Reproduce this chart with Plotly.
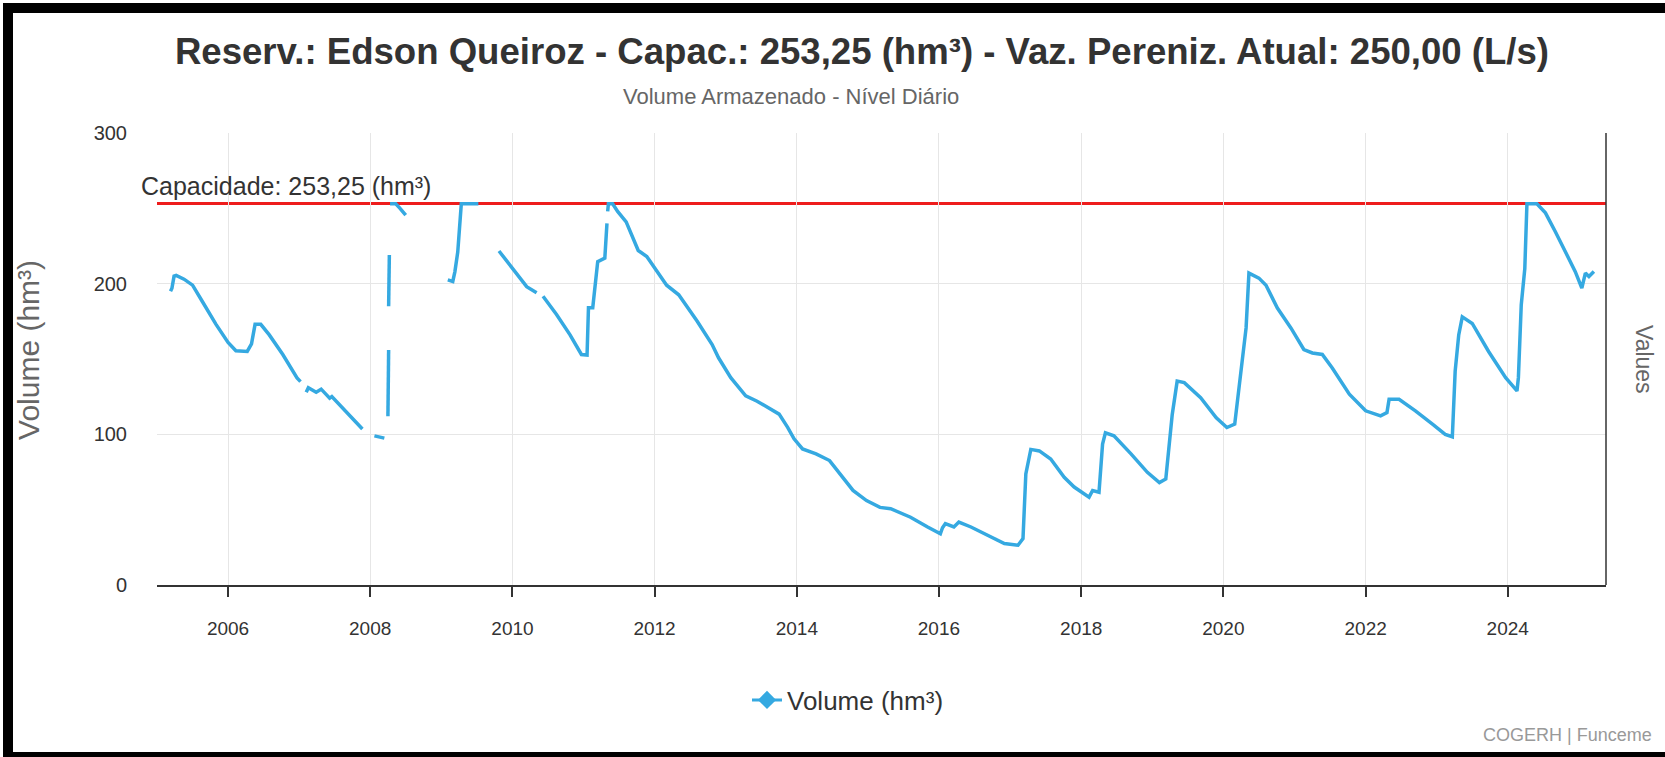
import plotly.graph_objects as go
import pandas as pd

# ---- data (decimal years, volume hm3; None = gap) ----
years = [
    2005.19, 2005.21, 2005.24, 2005.27, 2005.38, 2005.50, 2005.64, 2005.83, 2006.00, 2006.11,
    2006.27, 2006.33, 2006.38, 2006.46, 2006.58, 2006.77, 2006.97, 2007.02, 2007.05, 2007.10,
    2007.13, 2007.24, 2007.31, 2007.38, 2007.43, 2007.46, 2007.54, 2007.71, 2007.89, 2007.95,
    2008.06, 2008.20, 2008.22, 2008.25, 2008.26, 2008.26, 2008.26, 2008.27, 2008.275, 2008.28,
    2008.36, 2008.42, 2008.50, 2008.80, 2009.09, 2009.16, 2009.19, 2009.23, 2009.28, 2009.52,
    2009.65, 2009.81, 2009.96, 2010.06, 2010.20, 2010.34, 2010.38, 2010.43, 2010.62, 2010.81,
    2010.97, 2011.05, 2011.07, 2011.13, 2011.20, 2011.30, 2011.32, 2011.33, 2011.335, 2011.34,
    2011.35, 2011.41, 2011.48, 2011.60, 2011.77, 2011.89, 2011.98, 2012.17, 2012.34, 2012.60,
    2012.81, 2012.90, 2013.07, 2013.28, 2013.44, 2013.59, 2013.75, 2013.87, 2013.96, 2014.08,
    2014.27, 2014.46, 2014.60, 2014.79, 2014.98, 2015.17, 2015.32, 2015.60, 2015.84, 2016.02,
    2016.05, 2016.09, 2016.21, 2016.28, 2016.45, 2016.68, 2016.92, 2017.11, 2017.18, 2017.22,
    2017.29, 2017.41, 2017.57, 2017.76, 2017.90, 2018.11, 2018.16, 2018.25, 2018.30, 2018.34,
    2018.46, 2018.70, 2018.93, 2019.10, 2019.19, 2019.28, 2019.35, 2019.45, 2019.68, 2019.90,
    2020.05, 2020.16, 2020.27, 2020.32, 2020.36, 2020.50, 2020.60, 2020.76, 2020.95, 2021.13,
    2021.25, 2021.39, 2021.53, 2021.77, 2022.00, 2022.21, 2022.30, 2022.33, 2022.47, 2022.70,
    2022.94, 2023.12, 2023.22, 2023.26, 2023.31, 2023.36, 2023.50, 2023.73, 2023.97, 2024.13,
    2024.15, 2024.19, 2024.24, 2024.27, 2024.41, 2024.53, 2024.67, 2024.81, 2024.95, 2025.04,
    2025.09, 2025.14, 2025.21,
]
volume = [
    195, 197, 205, 205.5, 203, 199, 188, 173, 161, 155.5,
    155, 160, 173, 173, 166, 153, 137.5, 135, None, 128,
    131, 128, 130, 126.5, 124, 125, 121, 113, 103.5, None,
    99, 97.5, None, 112, 156, None, 185, 219, None, 253,
    253, 250, 245.5, None, 202.5, 201.5, 208, 221, 253, 253,
    None, 221.7, 212.4, 207, 198, 194, None, 191.6, 179.5, 166,
    153, 152.6, 184, 184, 214.6, 217, 232, 240, None, 248,
    253, 253, 248, 241, 222, 218, 212, 199, 192.6, 175,
    159.6, 150.8, 137.6, 125.5, 122, 117.8, 113.4, 104.6, 97, 90.3,
    87, 82.6, 73.8, 62.8, 56, 51.5, 50.6, 45, 38.5, 34,
    38, 40.7, 38.5, 41.8, 38.5, 33, 27.5, 26.4, 30.8, 73.7,
    90, 89, 83.6, 71.5, 65, 58.3, 62.7, 61.6, 93.5, 101,
    99, 87, 74.8, 68, 70.4, 113, 135.3, 134.3, 124.3, 111,
    104.5, 106.8, 150.8, 170.6, 207, 203.7, 199, 183.8, 170.6, 156.3,
    154, 153, 144, 126.6, 115.6, 112.3, 114.5, 123.3, 123.3, 115.6,
    106.8, 100, 98.4, 142, 166, 178, 173.6, 155, 137.6, 128.8,
    137.6, 186, 210, 253, 253, 247, 234.5, 221.4, 208, 197,
    207, 204.7, 208,
]
capacity = 253.25
tick_years = [2006, 2008, 2010, 2012, 2014, 2016, 2018, 2020, 2022, 2024]


def to_date(y):
    yr = int(y)
    return pd.Timestamp(year=yr, month=1, day=1) + pd.Timedelta(days=(y - yr) * 365.25)


dates = [to_date(y) for y in years]

# ---- layout geometry (pixels) ----
W, H = 1665, 757
L, R, T, B = 157, 1606, 133, 585
PW, PH = R - L, B - T


def px(x):
    return (x - L) / PW


def py(y):
    return (B - y) / PH


FONT = "Liberation Sans, Arial, sans-serif"
BLUE = "#35a9e1"

fig = go.Figure()
fig.add_trace(go.Scatter(
    x=dates, y=volume, mode="lines", connectgaps=False,
    line=dict(color=BLUE, width=3.5), showlegend=False, name="Volume (hm³)",
))
fig.add_trace(go.Scatter(
    x=[None], y=[None], mode="lines+markers", name="Volume (hm³)",
    line=dict(color=BLUE, width=3), marker=dict(symbol="diamond", size=14, color=BLUE),
))

fig.add_shape(type="line", xref="paper", yref="y", x0=0, x1=1, y0=capacity, y1=capacity,
              line=dict(color="#ee1c1c", width=3), layer="below")
# right axis line
fig.add_shape(type="line", xref="paper", yref="paper", x0=1, x1=1, y0=0, y1=1,
              line=dict(color="#333333", width=1.5))
# outer black frame: top, left, bottom bands
frame = dict(color="black", width=10)
fig.add_shape(type="line", xref="paper", yref="paper", x0=px(3), x1=px(1700), y0=py(8), y1=py(8), line=frame)
fig.add_shape(type="line", xref="paper", yref="paper", x0=px(8), x1=px(8), y0=py(3), y1=py(770), line=frame)
fig.add_shape(type="line", xref="paper", yref="paper", x0=px(3), x1=px(1700), y0=py(757), y1=py(757), line=frame)

fig.update_layout(
    width=W, height=H,
    margin=dict(l=L, r=W - R, t=T, b=H - B),
    paper_bgcolor="white", plot_bgcolor="white",
    font=dict(family=FONT, color="#333333"),
    title=dict(
        text="<b>Reserv.: Edson Queiroz - Capac.: 253,25 (hm³) - Vaz. Pereniz. Atual: 250,00 (L/s)</b>",
        x=862 / W, xref="container", xanchor="center",
        y=1 - 51 / H, yref="container", yanchor="middle",
        font=dict(size=36.6, color="#333333", family=FONT),
    ),
    xaxis=dict(
        type="date",
        range=[to_date(2005.0), to_date(2025.38)],
        tickvals=[pd.Timestamp(year=y, month=1, day=1) for y in tick_years],
        ticktext=[str(y) for y in tick_years],
        showgrid=True, gridcolor="#e6e6e6", gridwidth=1,
        showline=True, linecolor="#333333", linewidth=1.5,
        ticks="outside", ticklen=10, tickcolor="#333333", tickwidth=1.5,
        tickfont=dict(size=19, color="#333333"),
        ticklabelstandoff=15,
        zeroline=False,
    ),
    yaxis=dict(
        range=[0, 300], tickvals=[0, 100, 200, 300],
        showgrid=True, gridcolor="#e6e6e6", gridwidth=1,
        showline=False, zeroline=False,
        tickfont=dict(size=20, color="#333333"),
        ticklabelstandoff=29,
    ),
    legend=dict(
        orientation="h", x=px(848), xanchor="center", y=py(700), yanchor="middle",
        font=dict(size=26, color="#333333"), bgcolor="rgba(0,0,0,0)",
    ),
    annotations=[
        dict(text="Volume Armazenado - Nível Diário", xref="paper", yref="paper",
             x=px(791), y=py(96), xanchor="center", yanchor="middle", showarrow=False,
             font=dict(size=22, color="#666666")),
        dict(text="Capacidade: 253,25 (hm³)", xref="paper", yref="y",
             x=px(139), y=capacity, xanchor="left", yanchor="bottom", yshift=1, showarrow=False,
             font=dict(size=25, color="#333333")),
        dict(text="Volume (hm³)", xref="paper", yref="paper", x=px(29), y=0.52,
             textangle=-90, xanchor="center", yanchor="middle", showarrow=False,
             font=dict(size=30, color="#666666")),
        dict(text="Values", xref="paper", yref="paper", x=px(1644), y=0.5,
             textangle=90, xanchor="center", yanchor="middle", showarrow=False,
             font=dict(size=23, color="#666666")),
        dict(text="COGERH | Funceme", xref="paper", yref="paper", x=px(1654), y=py(735),
             xanchor="right", yanchor="middle", showarrow=False,
             font=dict(size=18, color="#999999")),
    ],
)

fig.write_html("out.html", config={"displayModeBar": False},
               post_script="document.body.style.margin='0px';")
